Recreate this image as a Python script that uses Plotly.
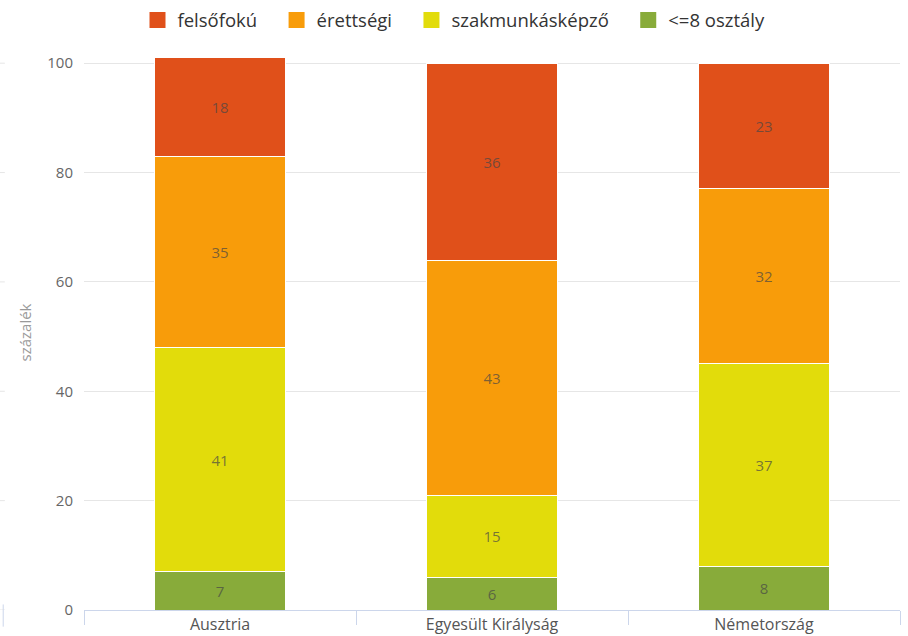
import plotly.graph_objects as go

countries = ['Ausztria', 'Egyesült Királyság', 'Németország']

# bottom of stack first
series_names = ['<=8 osztály', 'szakmunkásképző', 'érettségi', 'felsőfokú']
osztaly8 = [7, 6, 8]
szakmunkas = [41, 15, 37]
erettsegi = [35, 43, 32]
felsofoku = [18, 36, 23]
series_values = [osztaly8, szakmunkas, erettsegi, felsofoku]
colors = ['#88ab3a', '#e2dc0b', '#f89c0a', '#e0501a']

y_ticks = [0, 20, 40, 60, 80, 100]

fig = go.Figure()

for name, vals, col in zip(series_names, series_values, colors):
    fig.add_trace(
        go.Bar(
            x=countries,
            y=vals,
            name=name,
            showlegend=False,
            marker=dict(color=col, line=dict(color='white', width=1)),
            text=vals,
            textposition='inside',
            insidetextanchor='middle',
            textfont=dict(family='Open Sans', size=15, color='rgba(70,70,70,0.7)'),
            width=0.48,
        )
    )

# legend entries with bigger square swatches (padding widens the gaps)
for i, (name, col) in enumerate(zip(series_names, colors)):
    label = name if i == 0 else name + '\u00a0\u00a0\u00a0'
    fig.add_trace(
        go.Scatter(
            x=[None], y=[None],
            mode='markers',
            name=label,
            marker=dict(symbol='square', size=16, color=col),
            hoverinfo='skip',
        )
    )

# faint stubs at the left edge of the image
for t in y_ticks:
    fig.add_shape(type='line', xref='paper', yref='y', x0=-0.103, x1=-0.097,
                  y0=t, y1=t, line=dict(color='#e6e6e6', width=1))
fig.add_shape(type='line', xref='paper', yref='paper', x0=-0.099, x1=-0.099,
              y0=0.01, y1=-0.03, line=dict(color='#ccd6eb', width=1))

fig.update_layout(
    width=908,
    height=636,
    barmode='stack',
    plot_bgcolor='white',
    paper_bgcolor='white',
    margin=dict(l=84, r=8, t=55, b=26, autoexpand=False),
    font=dict(family='Open Sans', color='#666666', size=14),
    showlegend=True,
    legend=dict(
        orientation='h',
        x=0.5, xanchor='center',
        y=0.968, yanchor='middle',
        yref='container', xref='container',
        traceorder='reversed',
        font=dict(family='Open Sans', size=18.5, color='#333333'),
        itemsizing='trace',
    ),
    xaxis=dict(
        automargin=False,
        showline=True,
        linecolor='#ccd6eb',
        ticks='outside',
        tickson='boundaries',
        ticklen=14,
        tickcolor='#ccd6eb',
        showgrid=False,
        ticklabelstandoff=0,
        tickfont=dict(size=16, color='#555555'),
    ),
    yaxis=dict(
        automargin=False,
        range=[0, 101.5],
        tickvals=y_ticks,
        gridcolor='#e6e6e6',
        zeroline=False,
        showline=False,
        ticks='',
        ticklabelstandoff=10,
        tickfont=dict(size=15, color='#666666'),
        title=dict(text='százalék', font=dict(size=15, color='#999999'), standoff=12),
    ),
)

# the page body has a default 8px margin; remove it so the chart sits at 0,0
fig.write_html("out.html", config={'displayModeBar': False},
               post_script="document.body.style.margin='0';")
